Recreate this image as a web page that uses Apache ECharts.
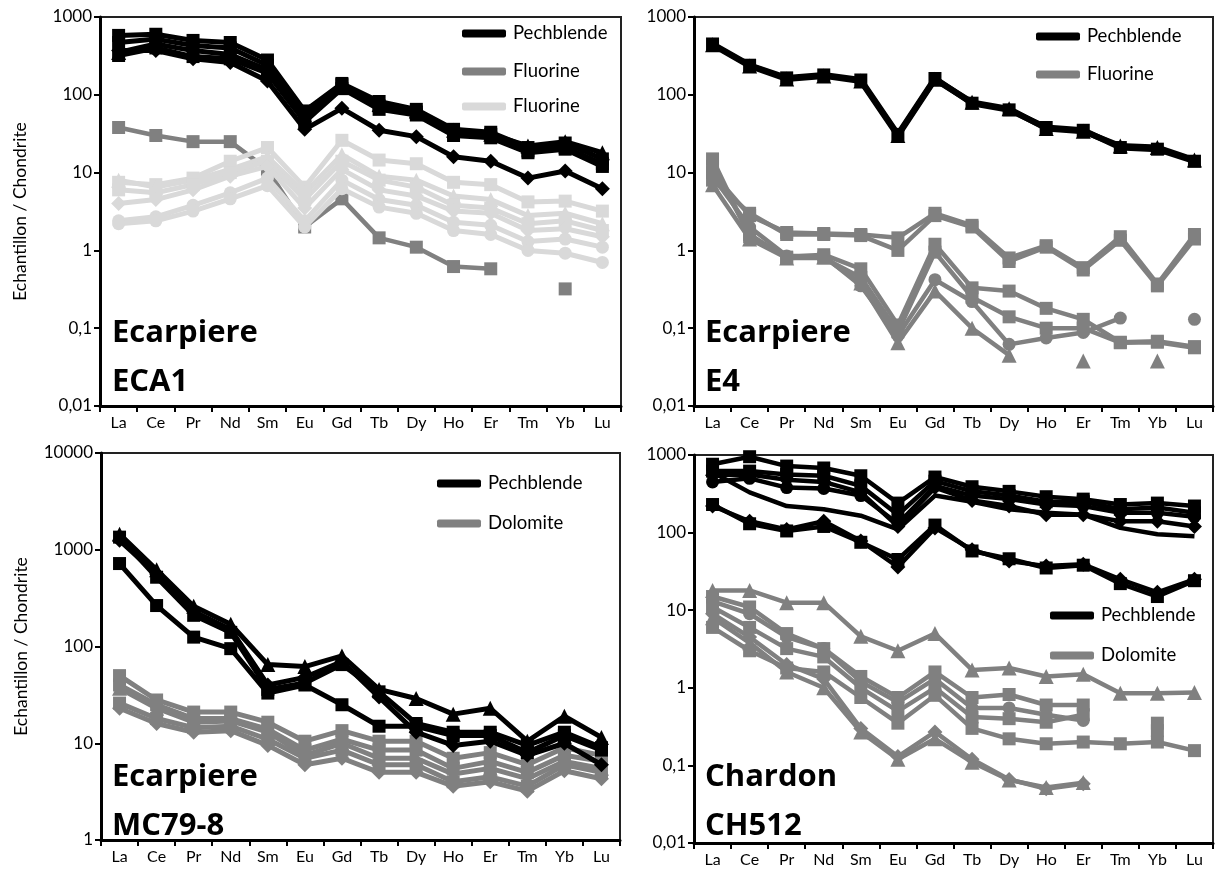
<!DOCTYPE html>
<html>
<head>
<meta charset="utf-8">
<script src="https://cdn.jsdelivr.net/npm/echarts@6/dist/echarts.min.js"></script>
<style>
html,body{margin:0;padding:0;background:#fff;}
#chart{width:1215px;height:874px;}
</style>
</head>
<body>
<div id="chart"></div>
<script>
// ---------- DATA ----------
const elements = ['La','Ce','Pr','Nd','Sm','Eu','Gd','Tb','Dy','Ho','Er','Tm','Yb','Lu'];

// Panel 1 : Ecarpiere ECA1
const eca1Pechblende = [
  [580, 600, 500, 470, 280, 62, 140, 82, 65, 36, 33, 21, 24, 15],
  [470, 520, 430, 400, 240, 52, 135, 72, 60, 33, 31, 19, 21, 13],
  [350, 450, 370, 330, 210, 55, 125, 75, 62, 35, 31, 22, 25, 18],
  [320, 400, 310, 290, 190, 45, 120, 65, 55, 30, 28, 18, 20, 12],
  [370, 370, 290, 260, 150, 36, 67, 35, 29, 16, 14, 8.5, 10.5, 6.2]
];
const eca1FluorineDark = [
  [38, 30, 25, 25, 11, 2.0, 4.6, 1.45, 1.1, 0.62, 0.58, null, 0.32, null]
];
const eca1FluorineLight = [
  [7.5, 7, 8.5, 14, 21, 6.5, 26, 14.5, 13, 7.5, 7, 4.2, 4.3, 3.2],
  [8, 6.5, 8, 11, 16, 5.5, 17, 9, 8, 5, 4.5, 2.8, 3, 2.2],
  [6, 5.5, 7, 10, 14, 4.5, 14, 8, 6.5, 3.8, 3.5, 2.2, 2.4, 1.8],
  [4, 4.5, 6, 9, 12, 3.5, 11, 6, 5, 3.2, 3, 1.8, 1.9, 1.5],
  [2.4, 2.7, 3.8, 5.5, 8.5, 2.4, 8, 4.5, 3.8, 2.3, 2.1, 1.3, 1.4, 1.1],
  [2.2, 2.4, 3.2, 4.6, 6.8, 2.0, 6.2, 3.6, 3.0, 1.8, 1.6, 1.0, 0.92, 0.7]
];

// Panel 2 : Ecarpiere E4
const e4Pechblende = [
  [450, 240, 165, 180, 155, 31, 162, 78, 64, 38, 35, 21, 20, 14],
  [440, 235, 160, 175, 150, 30, 158, 80, 66, 37, 34, 22, 21, 14.5]
];
const e4Fluorine = [
  [10, 2.8, 1.7, 1.65, 1.6, 1.45, 3.0, 2.1, 0.8, 1.15, 0.6, 1.5, 0.37, 1.6],
  [8, 3.0, 1.6, 1.6, 1.55, 1.0, 2.8, 2.0, 0.72, 1.1, 0.56, 1.35, 0.35, 1.4],
  [15, 1.5, 0.82, 0.88, 0.58, 0.11, 1.2, 0.33, 0.3, 0.18, 0.13, 0.066, 0.068, 0.058],
  [12, 1.6, 0.8, 0.8, 0.45, 0.09, 0.95, 0.25, 0.14, 0.1, 0.1, 0.065, 0.066, 0.056],
  [9, 2.0, 0.85, 0.85, 0.35, 0.08, 0.42, 0.22, 0.062, 0.075, 0.088, 0.135, null, 0.13],
  [7, 1.4, 0.8, 0.82, 0.38, 0.065, 0.3, 0.1, 0.045, null, 0.038, null, 0.038, null]
];

// Panel 3 : Ecarpiere MC79-8
const mc79Pechblende = [
  [1450, 620, 260, 170, 65, 62, 80, 36, 29, 20, 23, 10.5, 19, 11.5],
  [1350, 520, 210, 140, 36, 42, 65, 34, 16, 13, 13, 9.5, 13, 9],
  [720, 265, 125, 95, 33, 40, 25, 15, 15, 12, 12, 8, 12, 8.5],
  [1250, 560, 230, 150, 40, 48, 70, 30, 13, 9.5, 10.5, 7.5, 10, 6]
];
const mc79Dolomite = [
  [50, 28, 21, 21, 16.5, 10.5, 13.5, 10.5, 10.5, 7, 8, 6, 9, 7.5],
  [40, 25, 18, 18, 14, 8.5, 11, 8.5, 8.5, 5.5, 6.5, 5, 7.5, 6.5],
  [37, 23, 16.5, 17, 13, 7.5, 10, 7, 7, 4.8, 5.5, 4.3, 6.5, 5.5],
  [26, 18, 14.5, 15, 11, 7, 8.5, 6, 6, 4, 4.5, 3.6, 6, 5],
  [23, 16, 13, 13.5, 9.5, 6, 7, 5, 5, 3.6, 4, 3.2, 5.2, 4.3]
];

// Panel 4 : Chardon CH512
const ch512Pechblende = [
  [760, 950, 720, 680, 540, 240, 520, 390, 340, 290, 270, 230, 240, 220],
  [620, 620, 560, 540, 400, 170, 460, 340, 300, 250, 250, 200, 210, 180],
  [450, 500, 380, 370, 300, 130, 400, 300, 270, 230, 220, 180, 180, 160],
  [550, 560, 480, 450, 330, 120, 380, 260, 220, 170, 170, 140, 140, 120],
  [600, 330, 220, 200, 165, 110, 300, 250, 200, 180, 170, 115, 95, 90],
  [230, 130, 105, 120, 75, 45, 125, 58, 46, 35, 38, 22, 15, 24],
  [220, 140, 110, 140, 78, 36, 115, 60, 43, 37, 39, 25, 17, 25]
];
const ch512Dolomite = [
  [18, 18, 12.5, 12.5, 4.6, 3.0, 5.0, 1.7, 1.8, 1.4, 1.5, 0.85, 0.85, 0.87],
  [15, 11, 5, 3.2, 1.4, 0.75, 1.6, 0.75, 0.82, 0.6, 0.6, null, 0.35, null],
  [13, 9, 4.5, 3.2, 1.2, 0.65, 1.3, 0.55, 0.55, 0.45, 0.38, null, null, null],
  [11, 6, 3.2, 2.5, 1.0, 0.5, 1.0, 0.42, 0.4, 0.36, 0.45, null, 0.28, null],
  [6, 3, 1.8, 1.6, 0.75, 0.35, 0.8, 0.3, 0.22, 0.19, 0.2, 0.19, 0.2, 0.155],
  [9, 4.5, 2.0, 1.3, 0.3, 0.13, 0.27, 0.12, 0.066, 0.05, 0.058, null, null, null],
  [8, 3.8, 1.6, 1.0, 0.27, 0.12, 0.22, 0.11, 0.065, 0.052, 0.06, null, null, null]
];

// ---------- STYLE ----------
const FONT = 'Lato, "Open Sans", sans-serif';
const TFONT = '"Open Sans", Lato, sans-serif';
const BLACK = '#000000', DARK = '#808080', LIGHT = '#d9d9d9';
const sym = {
  eca1P: ['rect','rect','triangle','rect','diamond'],
  eca1D: ['rect'],
  eca1L: ['rect','triangle','rect','diamond','circle','circle'],
  e4P: ['rect','triangle'],
  e4F: ['rect','rect','rect','rect','circle','triangle'],
  mcP: ['triangle','rect','rect','diamond'],
  mcD: ['rect','rect','triangle','rect','diamond'],
  chP: ['rect','rect','circle','diamond','none','rect','diamond'],
  chD: ['triangle','rect','circle','rect','rect','diamond','triangle']
};

function fmt(v){
  return String(Number(v.toPrecision(6))).replace('.', ',');
}

const grids = [
  {left:100, top:17, width:521, height:389},
  {left:694, top:17, width:519, height:389},
  {left:101, top:453, width:519, height:387},
  {left:694, top:455, width:519, height:388}
];

function xAxisFor(i){
  return {
    type:'category', gridIndex:i, data:elements, boundaryGap:true,
    axisLine:{lineStyle:{color:'#000', width:3}},
    axisTick:{show:true, interval:0, length:6, lineStyle:{color:'#000', width:2}},
    axisLabel:{interval:0, fontSize:16, color:'#000', fontFamily:FONT, margin:9},
    splitLine:{show:false}
  };
}
function yAxisFor(i, min, max, withName){
  const a = {
    type:'log', logBase:10, gridIndex:i, min:min, max:max,
    axisLine:{show:true, lineStyle:{color:'#000', width:3}},
    axisTick:{show:true, length:6, lineStyle:{color:'#000', width:2}},
    axisLabel:{fontSize:17, color:'#000', fontFamily:FONT, margin:8, formatter:fmt},
    splitLine:{show:false}, minorTick:{show:false}
  };
  if (withName){
    a.name = 'Echantillon / Chondrite';
    a.nameLocation = 'middle';
    a.nameRotate = 90;
    a.nameGap = 71;
    a.nameTextStyle = {fontSize:17.5, color:'#000', fontFamily:FONT};
  }
  return a;
}

function mk(grid, name, color, rows, symbols, width, z){
  return rows.map((d, k) => ({
    type:'line', name:name, xAxisIndex:grid, yAxisIndex:grid, data:d,
    symbol:symbols[k],
    symbolSize: symbols[k]==='triangle' ? 15 : (symbols[k]==='diamond' ? 15 : 13),
    showAllSymbol:true, connectNulls:false, z:z,
    lineStyle:{color:color, width:width},
    itemStyle:{color:color, borderWidth:0},
    emphasis:{disabled:true}, animation:false
  }));
}

const series = [].concat(
  mk(0, 'Fluorine', DARK, eca1FluorineDark, sym.eca1D, 4.5, 2),
  mk(0, 'Fluorine\u200b', LIGHT, eca1FluorineLight, sym.eca1L, 5, 3),
  mk(0, 'Pechblende', BLACK, eca1Pechblende, sym.eca1P, 5, 4),
  mk(1, 'Fluorine', DARK, e4Fluorine, sym.e4F, 4.5, 2),
  mk(1, 'Pechblende', BLACK, e4Pechblende, sym.e4P, 6, 4),
  mk(2, 'Dolomite', DARK, mc79Dolomite, sym.mcD, 5, 2),
  mk(2, 'Pechblende', BLACK, mc79Pechblende, sym.mcP, 5, 4),
  mk(3, 'Dolomite', DARK, ch512Dolomite, sym.chD, 4.5, 2),
  mk(3, 'Pechblende', BLACK, ch512Pechblende, sym.chP, 4.5, 4)
);

function legendAt(name, left, cy){
  return {
    data:[name], left:left, top:cy-11, padding:0, selectedMode:false,
    icon:'roundRect', itemWidth:44, itemHeight:8, itemGap:0,
    textStyle:{fontSize:18.5, color:'#000', fontFamily:FONT, padding:[0,0,0,2]}
  };
}
const legends = [
  legendAt('Pechblende', 462, 35),
  legendAt('Fluorine', 462, 73),
  legendAt('Fluorine\u200b', 462, 108),
  legendAt('Pechblende', 1036, 38),
  legendAt('Fluorine', 1036, 76),
  legendAt('Pechblende', 437, 485),
  legendAt('Dolomite', 437, 525),
  legendAt('Pechblende', 1050, 617),
  legendAt('Dolomite', 1050, 657)
];

function titleAt(text, left, top){
  return {text:text, left:left, top:top, padding:0,
    textStyle:{fontSize:31, fontWeight:'bold', color:'#000', fontFamily:TFONT, lineHeight:49}};
}
const titles = [
  titleAt('Ecarpiere\nECA1', 112, 309),
  titleAt('Ecarpiere\nE4', 705, 309),
  titleAt('Ecarpiere\nMC79-8', 112, 753),
  titleAt('Chardon\nCH512', 705, 753)
];

const chart = echarts.init(document.getElementById('chart'), null, {renderer:'canvas'});
chart.setOption({
  animation:false,
  backgroundColor:'#fff',
  title:titles,
  legend:legends,
  grid:grids.map(g => Object.assign({show:true, borderColor:'#222', borderWidth:2, backgroundColor:'transparent'}, g)),
  xAxis:[0,1,2,3].map(xAxisFor),
  yAxis:[
    yAxisFor(0, 0.01, 1000, true),
    yAxisFor(1, 0.01, 1000, false),
    yAxisFor(2, 1, 10000, true),
    yAxisFor(3, 0.01, 1000, false)
  ],
  series:series
});
</script>
</body>
</html>
